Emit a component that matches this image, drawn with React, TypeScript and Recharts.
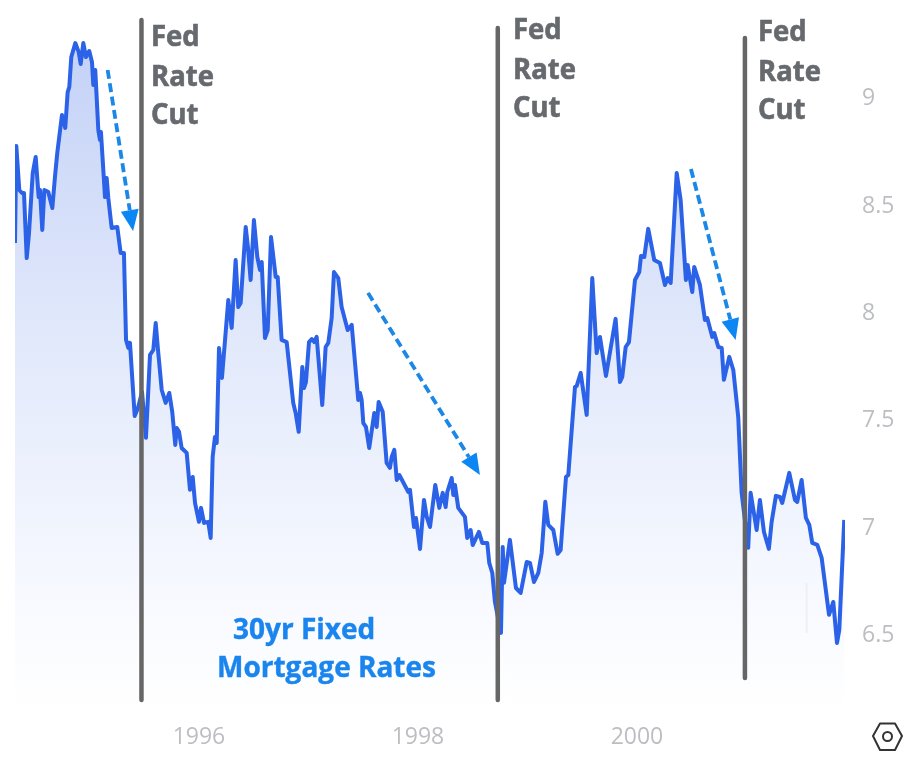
import React from "react";
import { ComposedChart, Area, XAxis, YAxis, ReferenceLine } from "recharts";

const years = [
  1994.32,1994.332,1994.359,1994.384,1994.402,1994.427,1994.448,1994.482,1994.509,1994.536,1994.548,1994.569,1994.588,1994.624,1994.661,1994.685,1994.706,1994.749,1994.779,1994.801,1994.816,1994.834,1994.871,1994.902,1994.92,1994.944,1994.968,1994.998,
  1995.023,1995.035,1995.053,1995.081,1995.096,1995.105,1995.142,1995.157,1995.172,1995.203,1995.254,1995.285,1995.315,1995.334,1995.355,1995.37,1995.413,1995.443,1995.48,1995.516,1995.553,1995.583,1995.605,1995.626,1995.66,1995.696,1995.729,1995.756,1995.784,1995.797,1995.818,1995.842,1995.888,1995.918,1995.943,1995.964,
  1996,1996.019,1996.046,1996.085,1996.107,1996.125,1996.146,1996.162,1996.183,1996.21,1996.268,1996.299,1996.335,1996.359,1996.381,1996.427,1996.448,1996.472,1996.502,1996.533,1996.557,1996.573,1996.603,1996.628,1996.658,1996.701,1996.719,1996.755,1996.801,1996.861,1996.883,1996.911,1996.944,1996.959,1996.977,
  1997.005,1997.03,1997.053,1997.075,1997.126,1997.157,1997.181,1997.212,1997.233,1997.272,1997.303,1997.358,1997.395,1997.455,1997.471,1997.486,1997.501,1997.525,1997.555,1997.601,1997.623,1997.641,1997.678,1997.714,1997.744,1997.76,1997.784,1997.806,1997.83,1997.912,1997.927,1997.964,1997.982,
  1998.019,1998.055,1998.08,1998.11,1998.158,1998.195,1998.226,1998.253,1998.268,1998.308,1998.323,1998.338,1998.368,1998.429,1998.45,1998.481,1998.5,1998.557,1998.587,1998.633,1998.651,1998.679,1998.703,1998.758,1998.774,1998.786,1998.84,1998.895,1998.938,1998.993,
  1999.023,1999.06,1999.099,1999.13,1999.163,1999.19,1999.236,1999.276,1999.303,1999.352,1999.373,1999.434,1999.45,1999.486,1999.541,1999.592,1999.632,1999.662,1999.717,1999.805,1999.845,1999.866,1999.897,1999.927,1999.982,
  2000.021,2000.037,2000.067,2000.103,2000.158,2000.21,2000.256,2000.281,2000.308,2000.363,2000.399,2000.447,2000.463,2000.505,2000.523,2000.575,2000.621,2000.642,2000.688,2000.706,2000.743,2000.774,2000.794,2000.843,2000.88,2000.925,2000.956,
  2001.016,2001.038,2001.093,2001.123,2001.16,2001.205,2001.23,2001.269,2001.306,2001.327,2001.391,2001.443,2001.464,2001.504,2001.543,2001.574,2001.601,2001.647,2001.687,2001.754,2001.793,2001.827,2001.848,2001.893,
];

const rates = [
  8.32,8.772,8.567,8.553,8.553,8.25,8.367,8.646,8.721,8.534,8.567,8.381,8.567,8.558,8.483,8.628,8.739,8.916,8.856,9.023,9.047,9.186,9.251,9.209,9.154,9.251,9.186,9.214,
  9.163,9.056,9.126,8.846,8.8,8.837,8.534,8.623,8.53,8.39,8.395,8.274,8.274,7.869,7.832,7.855,7.515,7.552,7.627,7.413,7.799,7.822,7.948,7.822,7.636,7.576,7.622,7.534,7.38,7.459,7.441,7.366,7.343,7.171,7.231,7.11,
  7.022,7.087,7.017,7.022,6.947,7.324,7.417,7.389,7.831,7.692,8.055,7.925,8.241,8.022,8.041,8.395,8.297,8.148,8.427,8.255,8.195,8.232,7.878,7.915,8.348,8.162,8.162,7.869,7.859,7.576,7.529,7.441,7.743,7.645,7.673,
  7.859,7.873,7.859,7.883,7.566,7.836,7.855,7.971,8.185,8.157,8.022,7.915,7.939,7.589,7.622,7.589,7.482,7.464,7.366,7.529,7.464,7.58,7.534,7.296,7.273,7.324,7.357,7.217,7.24,7.161,7.171,6.998,7.04,
  6.896,7.124,7.045,6.998,7.194,7.087,7.157,7.091,7.161,7.226,7.147,7.194,7.087,7.045,6.947,6.984,6.914,6.975,6.924,6.924,6.831,6.784,6.649,6.505,6.905,6.738,6.938,6.714,6.691,6.835,
  6.831,6.742,6.784,6.877,7.115,7.008,6.984,6.873,6.891,7.231,7.24,7.65,7.655,7.715,7.52,8.157,7.808,7.883,7.701,7.967,7.673,7.697,7.836,7.859,8.148,
  8.185,8.26,8.255,8.386,8.241,8.227,8.125,8.157,8.134,8.646,8.52,8.148,8.218,8.092,8.209,8.125,7.962,7.971,7.883,7.901,7.836,7.832,7.683,7.79,7.729,7.51,7.157,
  6.901,7.157,6.984,7.124,6.975,6.896,7.022,7.143,7.138,7.11,7.25,7.124,7.115,7.217,7.04,7.008,6.924,6.915,6.854,6.589,6.649,6.458,6.519,7.031,
];

const xTicks = [1996, 1998, 2000];
const yTicks = [6.5, 7, 7.5, 8, 8.5, 9];
const xDomain = [1994.32, 2001.9];
const yDomain = [6.146, 9.405];

const cutYears = [1995.475, 1998.729, 2000.986];
const cutTops = [9.358, 9.321, 9.275];
const cutBottoms = [6.193, 6.193, 6.295];

const arrowStartYears = [1995.166, 1997.544, 2000.493];
const arrowStartRates = [9.126, 8.088, 8.665];
const arrowEndYears = [1995.398, 1998.566, 2000.901];
const arrowEndRates = [8.376, 7.24, 7.869];

const faintMarkYear = 2001.55;
const faintMarkRates = [6.505, 6.738];

const cutLabelLines = ["Fed", "Rate", "Cut"];
const chartData = years.map((year, i) => ({ year, rate: rates[i] }));

const W = 906;
const H = 761;
const SANS = "'Open Sans', sans-serif";

const DashedArrow = (props: any) => {
  const { x1, y1, x2, y2 } = props;
  const dx = x2 - x1;
  const dy = y2 - y1;
  const len = Math.hypot(dx, dy);
  const ux = dx / len;
  const uy = dy / len;
  const headLen = 21;
  const headHalf = 9;
  const bx = x2 - ux * headLen;
  const by = y2 - uy * headLen;
  return (
    <g>
      <line x1={x1} y1={y1} x2={bx} y2={by} stroke="#1b87e6" strokeWidth={3.8} strokeDasharray="9 4.5" />
      <polygon
        points={`${x2},${y2} ${bx - uy * headHalf},${by + ux * headHalf} ${bx + uy * headHalf},${by - ux * headHalf}`}
        fill="#0b86f2"
      />
    </g>
  );
};

const CutLabel = ({ left, top }: { left: number; top: number }) => (
  <div
    style={{
      position: "absolute",
      left,
      top,
      font: `700 27.5px/36.5px ${SANS}`,
      color: "#666a6e",
      WebkitTextStroke: "0.6px #666a6e",
      transform: "scaleY(1.06)",
      transformOrigin: "left center",
    }}
  >
    {cutLabelLines.map((t) => (
      <div key={t}>{t}</div>
    ))}
  </div>
);

const blueText: React.CSSProperties = {
  position: "absolute",
  font: `700 28px/38px ${SANS}`,
  color: "#1a85ee",
  whiteSpace: "nowrap",
  WebkitTextStroke: "0.4px #1a85ee",
};

export default function App() {
  return (
    <div style={{ position: "absolute", left: 0, top: 0, width: W, height: H, background: "#fff", overflow: "hidden" }}>
      <div style={{ position: "absolute", inset: 0, filter: "blur(0.7px)" }}>
        <ComposedChart
          width={W}
          height={H}
          data={chartData}
          margin={{ top: 10, right: 0, bottom: 0, left: 15 }}
        >
          <defs>
            <linearGradient id="rateFill" x1="0" y1="0" x2="0" y2="1">
              <stop offset="0%" stopColor="#c4d2f7" />
              <stop offset="45%" stopColor="#e2e9fb" />
              <stop offset="85%" stopColor="#f8faff" />
              <stop offset="100%" stopColor="#ffffff" />
            </linearGradient>
          </defs>
          <XAxis
            dataKey="year"
            type="number"
            domain={xDomain}
            ticks={xTicks}
            allowDataOverflow
            height={51}
            axisLine={false}
            tickLine={false}
            tickMargin={12}
            tick={{ fill: "#bcbec2", fontSize: 23, fontFamily: SANS }}
          />
          <YAxis
            orientation="right"
            type="number"
            domain={yDomain}
            ticks={yTicks}
            allowDataOverflow
            width={61}
            axisLine={false}
            tickLine={false}
            tickMargin={11}
            tick={{ fill: "#bcbec2", fontSize: 23, fontFamily: SANS }}
          />
          <ReferenceLine
            segment={[
              { x: faintMarkYear, y: faintMarkRates[0] },
              { x: faintMarkYear, y: faintMarkRates[1] },
            ]}
            stroke="#eef0f4"
            strokeWidth={2}
            ifOverflow="visible"
          />
          <Area
            type="linear"
            dataKey="rate"
            stroke="#2b62e8"
            strokeWidth={4}
            strokeLinejoin="round"
            fill="url(#rateFill)"
            fillOpacity={1}
            dot={false}
            activeDot={false}
            isAnimationActive={false}
          />
          {cutYears.map((year, i) => (
            <ReferenceLine
              key={year}
              segment={[
                { x: year, y: cutBottoms[i] },
                { x: year, y: cutTops[i] },
              ]}
              stroke="#666666"
              strokeWidth={4.5}
              strokeLinecap="round"
              ifOverflow="visible"
            />
          ))}
          {arrowStartYears.map((year, i) => (
            <ReferenceLine
              key={year}
              segment={[
                { x: year, y: arrowStartRates[i] },
                { x: arrowEndYears[i], y: arrowEndRates[i] },
              ]}
              shape={DashedArrow}
              ifOverflow="visible"
            />
          ))}
        </ComposedChart>

        <CutLabel left={151} top={20} />
        <CutLabel left={513} top={13} />
        <CutLabel left={758} top={15} />

        <div style={{ ...blueText, left: 233, top: 609 }}>30yr Fixed</div>
        <div style={{ ...blueText, left: 217, top: 647 }}>Mortgage Rates</div>

        <svg style={{ position: "absolute", left: 870, top: 720 }} width={34} height={34} viewBox="0 0 34 34">
          <polygon points="3,16 10,3.5 25,3.5 32,16 25,30 10,30" fill="none" stroke="#333" strokeWidth={2} strokeLinejoin="round" />
          <circle cx={17.5} cy={16.5} r={4.5} fill="none" stroke="#333" strokeWidth={2} />
        </svg>
      </div>
    </div>
  );
}
